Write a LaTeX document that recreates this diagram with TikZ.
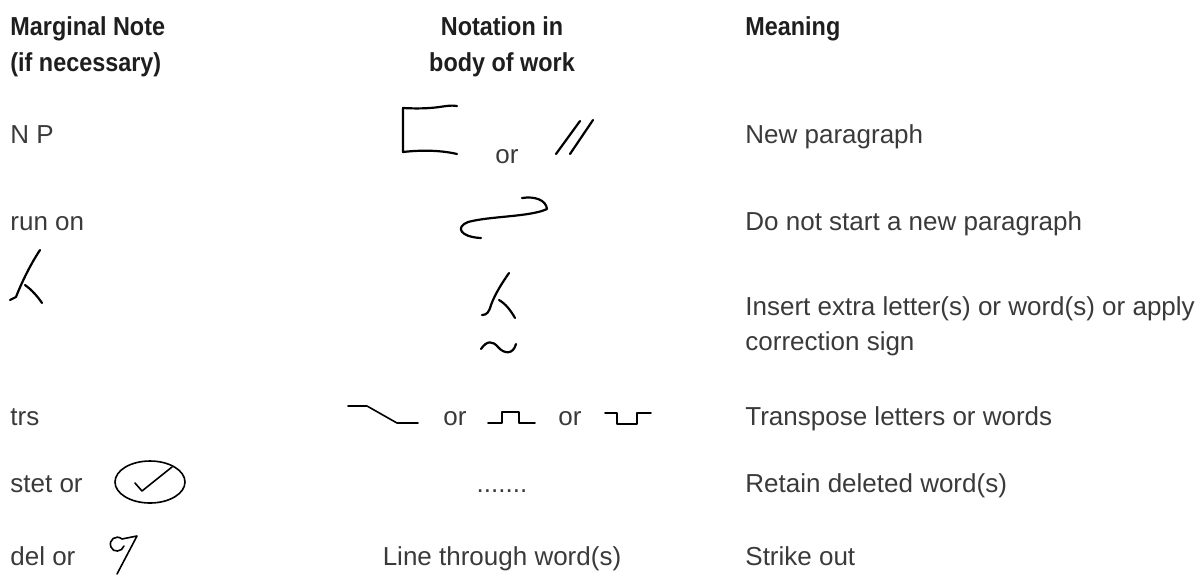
\documentclass[tikz,border=0pt]{standalone}
\usepackage{fontspec}
\setmainfont{Liberation Sans}
\newfontfamily\headfont[FakeStretch=0.9]{Liberation Sans Bold}
\definecolor{inkgray}{HTML}{3A3A3A}
\definecolor{headblack}{HTML}{1E1E1E}
\tikzset{
  hdr/.style={font=\headfont\fontsize{13}{18}\selectfont, text=headblack, inner sep=0pt, align=left},
  txt/.style={font=\fontsize{13}{17.5}\selectfont, text=inkgray, inner sep=0pt, anchor=base west},
  pen/.style={line width=1.1pt, draw=black},
  thinpen/.style={line width=.8pt, draw=black}
}
\begin{document}
\begin{tikzpicture}[x=.5pt,y=-.5pt, line join=round, line cap=round]
  \def\xa{10} \def\xb{502} \def\xc{745}
  \useasboundingbox (0,0) rectangle (1202,574);
  % headings (base = last line)
  \node[hdr,anchor=base west] (hmarg) at (\xa,71) {Marginal Note\\(if necessary)};
  \node[hdr,anchor=base,align=center] (hnot) at (\xb,71) {Notation in\\body of work};
  \node[hdr,anchor=base west] (hmean) at (\xc,35) {Meaning};
  % new paragraph
  \node[txt] (np) at (\xa,143) {N P};
  \draw[pen] (457,106) .. controls (445,104) and (440,110) .. (403,108) -- (403,152)
             .. controls (420,150) and (440,150) .. (457,154);
  \node[txt] (npor) at (495,163) {or};
  \draw[pen] (556,154) -- (580,121);
  \draw[pen] (570,154) -- (593,120);
  \node[txt] (npmean) at (\xc,143) {New paragraph};
  % run on
  \node[txt] (runon) at (\xa,230) {run on};
  \draw[pen] (522,198) .. controls (535,196) and (546,200) .. (547,209)
             .. controls (530,217) and (490,216) .. (468,222)
             .. controls (455,227) and (460,237) .. (481,238);
  \node[txt] (runmean) at (\xc,230) {Do not start a new paragraph};
  % insert
  \draw[pen] (40,250) .. controls (30,265) and (21,284) .. (16,297) -- (10,300);
  \draw[pen] (25,285) .. controls (32,290) and (38,297) .. (42,303);
  \draw[pen] (509,273) .. controls (502,283) and (495,294) .. (491,305)
             .. controls (489,312) and (487,315) .. (482,315);
  \draw[pen] (499,300) .. controls (506,304) and (511,311) .. (515,318);
  \draw[pen] (481,349) .. controls (487,340) and (493,341) .. (498,347)
             .. controls (504,354) and (513,355) .. (516,344);
  \node[txt,align=left] (insmean) at (\xc,350) {Insert extra letter(s) or word(s) or apply\\correction sign};
  % transpose
  \node[txt] (trs) at (\xa,425) {trs};
  \draw[thinpen] (348,406) -- (367,406) -- (397,423) -- (418,423);
  \node[txt] (trsor) at (443,425) {or};
  \draw[thinpen] (488,423) -- (502,423) -- (502,412) -- (519,412) -- (519,423) -- (535,423);
  \node[txt] (trsorb) at (558,425) {or};
  \draw[thinpen] (605,413) -- (617,413) -- (617,424) -- (637,424) -- (637,413) -- (651,413);
  \node[txt] (trsmean) at (\xc,425) {Transpose letters or words};
  % stet
  \node[txt] (stet) at (\xa,492) {stet or};
  \draw[thinpen] (150,482) ellipse [x radius=35, y radius=21];
  \draw[thinpen] (135,483) -- (142,491) -- (172,467);
  \node[txt,anchor=base] (dots) at (\xb,492) {.......};
  \node[txt] (stetmean) at (\xc,492) {Retain deleted word(s)};
  % delete
  \node[txt] (del) at (\xa,565) {del or};
  \draw[thinpen] (124,546) .. controls (122,552) and (113,553) .. (111,547)
                 .. controls (108,540) and (116,534) .. (122,539) -- (137,536) -- (117,574);
  \node[txt,anchor=base] (delnot) at (\xb,565) {Line through word(s)};
  \node[txt] (delmean) at (\xc,565) {Strike out};
\end{tikzpicture}
\end{document}
